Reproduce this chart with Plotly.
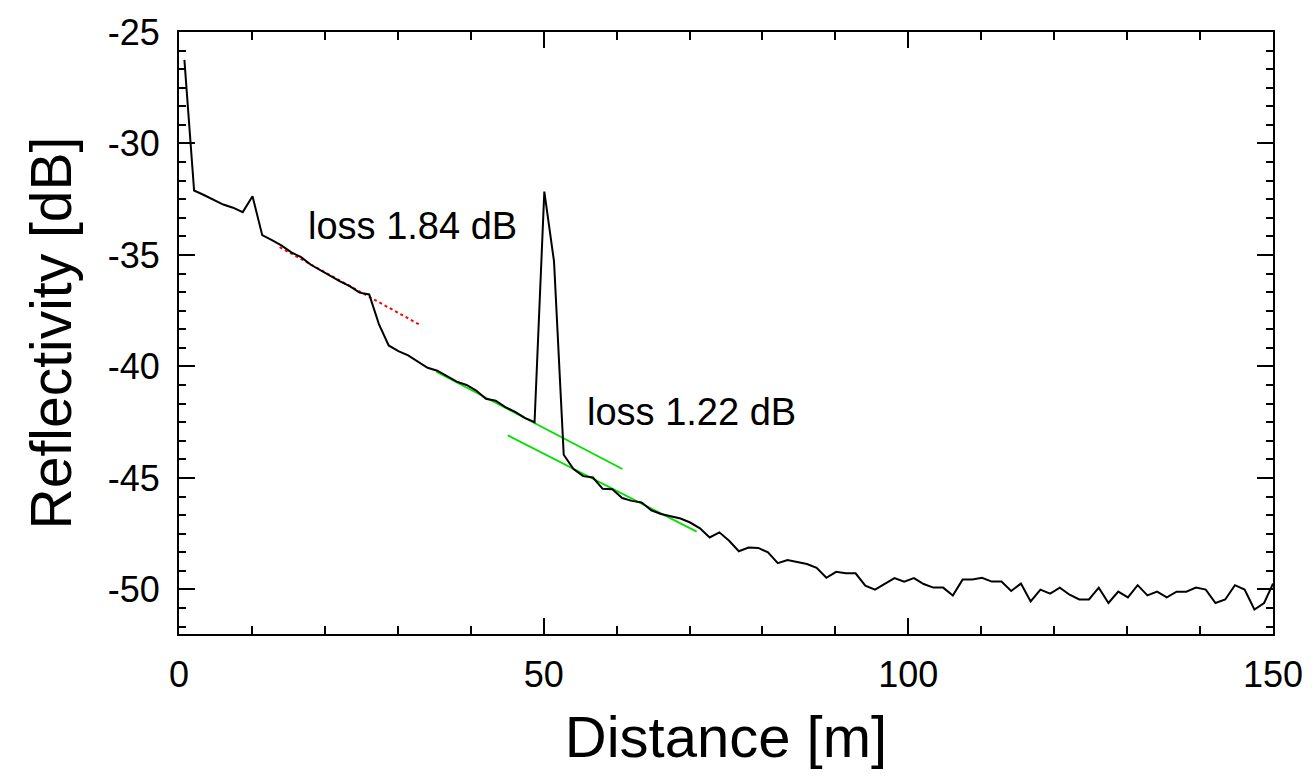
import plotly.graph_objects as go

distance_m = [
    0.74, 2.07, 3.41, 4.74, 6.07, 7.41, 8.74, 10.08, 11.41, 12.74,
    14.08, 15.41, 16.74, 18.08, 19.41, 20.75, 22.08, 23.41, 24.75, 26.08,
    27.41, 28.75, 30.08, 31.42, 32.75, 34.08, 35.42, 36.75, 38.08, 39.42,
    40.75, 42.08, 43.42, 44.75, 46.09, 47.42, 48.75, 50.09, 51.42, 52.75,
    54.09, 55.42, 56.76, 58.09, 59.42, 60.76, 62.09, 63.42, 64.76, 66.09,
    67.43, 68.76, 70.09, 71.43, 72.76, 74.09, 75.43, 76.76, 78.09, 79.43,
    80.76, 82.10, 83.43, 84.76, 86.10, 87.43, 88.76, 90.10, 91.43, 92.77,
    94.10, 95.43, 96.77, 98.10, 99.43, 100.77, 102.10, 103.43, 104.77, 106.10,
    107.44, 108.77, 110.10, 111.44, 112.77, 114.10, 115.44, 116.77, 118.11, 119.44,
    120.77, 122.11, 123.44, 124.77, 126.11, 127.44, 128.78, 130.11, 131.44, 132.78,
    134.11, 135.44, 136.78, 138.11, 139.44, 140.78, 142.11, 143.45, 144.78, 146.11,
    147.45, 148.78, 150.0,
]

reflectivity_db = [
    -26.25, -32.11, -32.31, -32.54, -32.74, -32.88, -33.08, -32.37, -34.11, -34.33,
    -34.58, -34.88, -35.10, -35.44, -35.69, -35.91, -36.18, -36.40, -36.69, -36.77,
    -38.10, -39.06, -39.31, -39.50, -39.80, -40.06, -40.19, -40.43, -40.68, -40.83,
    -41.08, -41.45, -41.54, -41.82, -42.04, -42.31, -42.50, -32.16, -35.29, -43.96,
    -44.60, -44.92, -44.98, -45.49, -45.51, -45.90, -46.03, -46.10, -46.45, -46.62,
    -46.71, -46.82, -47.00, -47.26, -47.67, -47.44, -47.82, -48.29, -48.12, -48.14,
    -48.34, -48.82, -48.68, -48.76, -48.86, -49.03, -49.48, -49.21, -49.28, -49.28,
    -49.83, -50.01, -49.76, -49.49, -49.65, -49.49, -49.76, -49.92, -49.92, -50.27,
    -49.56, -49.56, -49.48, -49.65, -49.65, -50.07, -49.74, -50.54, -50.01, -50.19,
    -49.92, -50.24, -50.45, -50.45, -49.92, -50.61, -50.10, -50.36, -49.81, -50.27,
    -50.10, -50.36, -50.10, -50.10, -49.92, -50.01, -50.61, -50.45, -49.81, -50.01,
    -50.90, -50.61, -49.74,
]

# fit line for the first loss (red dotted)
fit1_x = [13.8, 33.0]
fit1_y = [-34.65, -38.13]
# fit lines for the second loss (green)
fit2a_x = [35.27, 60.8]
fit2a_y = [-40.24, -44.6]
fit2b_x = [45.07, 70.98]
fit2b_y = [-43.09, -47.41]

labels = ["loss 1.84 dB", "loss 1.22 dB"]
label_x = [17.4, 55.7]
label_y = [-33.68, -42.06]

x_ticks = [0, 50, 100, 150]
x_ticktext = ["0", "50", "100", "150"]
y_ticks = [-50, -45, -40, -35, -30, -25]
y_ticktext = ["-50", "-45", "-40", "-35", "-30", "-25"]

FONT = "Arial, Liberation Sans, sans-serif"

fig = go.Figure()
fig.add_trace(go.Scatter(x=fit1_x, y=fit1_y, mode="lines",
                         line=dict(color="#ff0000", width=2, dash="dot"),
                         showlegend=False))
fig.add_trace(go.Scatter(x=fit2a_x, y=fit2a_y, mode="lines",
                         line=dict(color="#00e000", width=1.8),
                         showlegend=False))
fig.add_trace(go.Scatter(x=fit2b_x, y=fit2b_y, mode="lines",
                         line=dict(color="#00e000", width=1.8),
                         showlegend=False))
fig.add_trace(go.Scatter(x=distance_m, y=reflectivity_db, mode="lines",
                         line=dict(color="black", width=2),
                         showlegend=False))

for t, xx, yy in zip(labels, label_x, label_y):
    fig.add_annotation(x=xx, y=yy, text=t, showarrow=False,
                       xanchor="left", yanchor="middle",
                       font=dict(family=FONT, size=38, color="black"))

axis_common = dict(
    showgrid=False, zeroline=False,
    showline=True, linecolor="black", linewidth=2,
    mirror="allticks", ticks="inside", tickcolor="black", tickwidth=2,
    ticklen=16,
    tickfont=dict(family=FONT, size=36, color="black"),
)

fig.update_xaxes(
    range=[0, 150], tickmode="array", tickvals=x_ticks, ticktext=x_ticktext,
    minor=dict(dtick=10, tick0=0, ticks="inside", ticklen=8,
               tickcolor="black", tickwidth=2, showgrid=False),
    title=dict(text="Distance [m]", font=dict(family=FONT, size=58, color="black"),
               standoff=22),
    ticklabelstandoff=8,
    **axis_common,
)
fig.update_yaxes(
    range=[-52, -25], tickmode="array", tickvals=y_ticks, ticktext=y_ticktext,
    minor=dict(dtick=5 / 6, tick0=-25, ticks="inside", ticklen=7,
               tickcolor="black", tickwidth=2, showgrid=False),
    title=dict(text="Reflectivity [dB]", font=dict(family=FONT, size=57, color="black"),
               standoff=18),
    ticklabelstandoff=10,
    **axis_common,
)

fig.update_layout(
    width=1315, height=778,
    margin=dict(l=179, r=40, t=24, b=144),
    plot_bgcolor="white", paper_bgcolor="white",
    font=dict(family=FONT, color="black"),
)

fig.write_html("out.html", config={"displayModeBar": False},
               post_script="document.body.style.margin='0';")
